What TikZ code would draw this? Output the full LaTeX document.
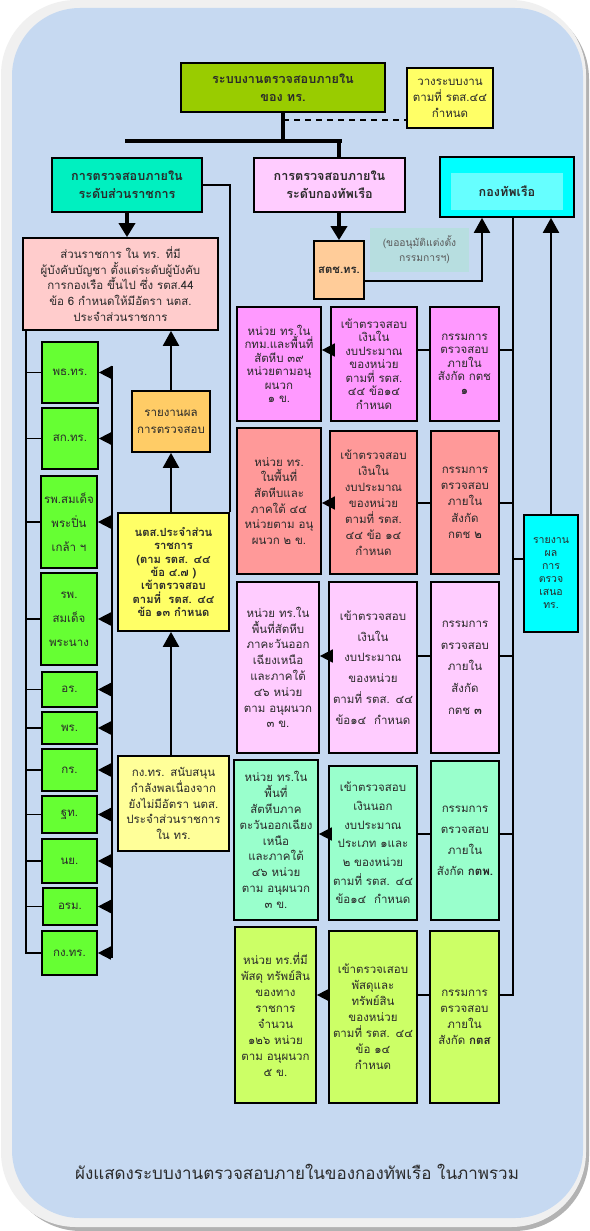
\documentclass[tikz,border=0pt]{standalone}
\usepackage{fontspec}
\setmainfont[Script=Thai]{Loma}
\usetikzlibrary{arrows.meta}
\definecolor{bgblue}{HTML}{C6D9F1}
\definecolor{frame}{HTML}{F0F0F0}
\definecolor{ctop}{HTML}{99CC00}
\definecolor{cyel}{HTML}{FFFF66}
\definecolor{cpale}{HTML}{FFFF99}
\definecolor{cteal}{HTML}{00F0C0}
\definecolor{cpinkl}{HTML}{FFCCFF}
\definecolor{ccyan}{HTML}{00FFFF}
\definecolor{ccyanin}{HTML}{66FFFF}
\definecolor{crose}{HTML}{FFCCCC}
\definecolor{corange}{HTML}{FFCC66}
\definecolor{cpeach}{HTML}{FFCC99}
\definecolor{clabel}{HTML}{B7DEE0}
\definecolor{crowa}{HTML}{FF99FF}
\definecolor{crowb}{HTML}{FF9999}
\definecolor{crowc}{HTML}{FFCCFF}
\definecolor{crowd}{HTML}{99FFCC}
\definecolor{crowe}{HTML}{CCFF66}
\definecolor{cgreen}{HTML}{66FF33}
\definecolor{ctext}{HTML}{2A2A2A}
\newcommand\bx[7]{%
 \pgfmathsetmacro\bxcx{(#2+#4)/2}\pgfmathsetmacro\bxcy{(#3+#5)/2}%
 \pgfmathsetmacro\bxw{#4-#2}\pgfmathsetmacro\bxh{#5-#3}\pgfmathsetmacro\bxtw{#4-#2-2}%
 \node[box,#6,minimum width=\bxw pt,minimum height=\bxh pt,text width=\bxtw pt] (#1) at (\bxcx,\bxcy) {#7};}
\tikzset{
 box/.style={draw=black, line width=1.7pt, inner sep=0pt, align=center, text=ctext},
 lsp/.style={font=\fontsize{11.5}{#1}\selectfont},
 hdr/.style={font=\fontsize{12.6}{18}\selectfont\bfseries},
 lnk/.style={line width=1.6pt},
 fat/.style={line width=4pt},
 arrT/.style={line width=4pt, -{Triangle[width=16pt,length=14pt]}},
 arrU/.style={line width=2.2pt, -{Triangle[width=16pt,length=15pt]}},
 arrS/.style={line width=1.6pt, -{Triangle[width=13pt,length=13pt]}},
}
\begin{document}
\begin{tikzpicture}[x=1pt,y=-1pt]
\useasboundingbox (0,0) rectangle (589,1231);
\fill[white] (0,0) rectangle (589,1231);
\fill[gray!60, rounded corners=75pt] (6,4) rectangle (589,1231);
\fill[frame, rounded corners=75pt] (1,0) rectangle (586,1227);
\fill[bgblue, rounded corners=68pt] (12,8) rectangle (583,1218);

% top row
\bx{top}{181}{63}{385}{112}{fill=ctop,hdr}{ระบบงานตรวจสอบภายใน\\ของ ทร.}
\bx{note}{407}{68}{493}{128}{fill=cyel,lsp=16,line width=1.3pt}{วางระบบงาน\\ตามที่ รตส.๔๔\\กำหนด}
\bx{teal}{52}{158}{202}{212}{fill=cteal,hdr}{การตรวจสอบภายใน\\ระดับส่วนราชการ}
\bx{pinkl}{254}{158}{405}{212}{fill=cpinkl,hdr}{การตรวจสอบภายใน\\ระดับกองทัพเรือ}
\bx{navy}{440}{157}{574}{217}{fill=ccyan}{}
\fill[ccyanin] (451,173) rectangle (563,210);
\node[font=\fontsize{12.6}{15}\selectfont\bfseries, text=ctext] (navyt) at (507,191) {กองทัพเรือ};

% connectors of top
\coordinate (bar) at (0,141);
\coordinate (dsh) at (0,120);
\draw[fat] (top.south) -- (top.south |- bar);
\draw[fat, line cap=rect] (teal.north |- bar) -- (340,141);
\draw[dashed, line width=1.3pt, dash pattern=on 6pt off 5pt] (top.south |- dsh) -- (note.west |- dsh);

% left area
\bx{pinkbig}{23}{238}{218}{330}{fill=crose,lsp=15.7}{ส่วนราชการ ใน ทร. ที่มี\\ผู้บังคับบัญชา ตั้งแต่ระดับผู้บังคับ\\การกองเรือ ขึ้นไป ซึ่ง รตส.44\\ข้อ 6 กำหนดให้มีอัตรา นตส.\\ประจำส่วนราชการ}
\draw[arrT] (teal.south) -- (teal.south |- pinkbig.north);
\bx{rep}{132}{391}{210}{452}{fill=corange,lsp=17}{รายงานผล\\การตรวจสอบ}
\bx{yel}{118}{513}{229}{631}{fill=cyel,font=\fontsize{11.2}{13.4}\selectfont\bfseries}{นตส.ประจำส่วน\\ราชการ\\(ตาม รตส. ๔๔\\ข้อ ๔.๗ )\\เข้าตรวจสอบ\\ตามที่~~รตส. ๔๔\\ข้อ ๑๓ กำหนด}
\bx{pale}{118}{756}{229}{851}{fill=cpale,lsp=15.7}{กง.ทร. สนับสนุน\\กำลังพลเนื่องจาก\\ยังไม่มีอัตรา นตส.\\ประจำส่วนราชการ\\ใน ทร.}
\draw[arrU] (rep.north) -- (rep.north |- pinkbig.south);
\draw[arrU] (rep.south |- yel.north) -- (rep.south);
\draw[arrU] (rep.south |- pale.north) -- (rep.south |- yel.south);
\draw[lnk] (teal.east) -| (yel.north east);

% green units
\bx{g1}{42}{342}{98}{403}{fill=cgreen,lsp=14}{พธ.ทร.}
\bx{g2}{42}{408}{98}{469}{fill=cgreen,lsp=14}{สก.ทร.}
\bx{g3}{41}{476}{97}{568}{fill=cgreen,lsp=24}{รพ.สมเด็จ\\พระปิ่น\\เกล้า ฯ}
\bx{g4}{41}{573}{97}{665}{fill=cgreen,lsp=24}{รพ.\\สมเด็จ\\พระนาง}
\bx{g5}{42}{672}{97}{707}{fill=cgreen,lsp=14}{อร.}
\bx{g6}{42}{712}{97}{744}{fill=cgreen,lsp=14}{พร.}
\bx{g7}{42}{749}{97}{791}{fill=cgreen,lsp=14}{กร.}
\bx{g8}{42}{796}{97}{833}{fill=cgreen,lsp=14}{ฐท.}
\bx{g9}{42}{839}{97}{883}{fill=cgreen,lsp=14}{นย.}
\bx{g10}{43}{888}{97}{925}{fill=cgreen,lsp=14}{อรม.}
\bx{g11}{42}{931}{97}{975}{fill=cgreen,lsp=14}{กง.ทร.}
\coordinate (lb) at (26,0);
\coordinate (rbT) at (112,366);
\coordinate (rbB) at (112,958);
\draw[lnk] (pinkbig.south west -| lb) -- (g11.west -| lb) -- (g11.west);
\foreach \g in {g1,g2,g3,g4,g5,g6,g7,g8,g9,g10}{\draw[lnk] (\g.west -| lb) -- (\g.west);}
\draw[lnk] (rbT) -- (rbB);
\foreach \g in {g1,g2,g3,g4,g5,g6,g7,g8,g9,g10,g11}{\draw[arrS] (\g.east -| rbT) -- (\g.east);}

% navy level
\bx{stch}{314}{241}{364}{299}{fill=cpeach,font=\fontsize{11.3}{13}\selectfont\bfseries}{สตช.ทร.}
\draw[arrT] (stch.north |- pinkl.south) -- (stch.north);
\draw[fat] (stch.north |- bar) -- (stch.north |- pinkl.north);
\node[fill=clabel, text=black!65, align=center, minimum width=99pt, minimum height=44pt, inner sep=0pt, font=\fontsize{10.3}{15}\selectfont] (lbl) at (419.5,250) {(ขออนุมัติแต่งตั้ง\\\hspace*{10pt}กรรมการฯ)};
\coordinate (sck) at (482,281);
\draw[arrU] (stch.east |- sck) -- (sck) -- (sck |- navy.south);

% rows
\bx{A1}{237}{307}{321}{421}{fill=crowa,lsp=13.5}{หน่วย ทร.ใน\\กทม.และพื้นที่\\สัตหีบ ๓๙\\หน่วยตามอนุ\\ผนวก\\๑ ข.}
\bx{B1}{331}{307}{417}{421}{fill=crowa,lsp=13.5}{เข้าตรวจสอบ\\เงินใน\\งบประมาณ\\ของหน่วย\\ตามที่ รตส.\\๔๔ ข้อ๑๔\\กำหนด}
\bx{C1}{430}{307}{499}{421}{fill=crowa,lsp=13.5}{กรรมการ\\ตรวจสอบ\\ภายใน\\สังกัด กตช\\\textbf{๑}}
\bx{A2}{237}{428}{321}{574}{fill=crowb,lsp=15.7}{หน่วย ทร.\\ในพื้นที่\\สัตหีบและ\\ภาคใต้ ๔๔\\หน่วยตาม อนุ\\ผนวก ๒ ข.}
\bx{B2}{330}{431}{417}{574}{fill=crowb,lsp=16}{เข้าตรวจสอบ\\เงินใน\\งบประมาณ\\ของหน่วย\\ตามที่ รตส.\\๔๔ ข้อ ๑๔\\กำหนด}
\bx{C2}{431}{431}{499}{574}{fill=crowb,lsp=16.3}{กรรมการ\\ตรวจสอบ\\ภายใน\\สังกัด\\กตช \textbf{๒}}
\bx{A3}{237}{582}{319}{753}{fill=crowc,lsp=15.8}{หน่วย ทร.ใน\\พื้นที่สัตหีบ\\ภาคะวันออก\\เฉียงเหนือ\\และภาคใต้\\๔๖ หน่วย\\ตาม อนุผนวก\\๓ ข.}
\bx{B3}{329}{582}{417}{753}{fill=crowc,lsp=20.7}{เข้าตรวจสอบ\\เงินใน\\งบประมาณ\\ของหน่วย\\ตามที่ รตส. ๔๔\\ข้อ๑๔~~กำหนด}
\bx{C3}{431}{582}{499}{753}{fill=crowc,lsp=21.7}{กรรมการ\\ตรวจสอบ\\ภายใน\\สังกัด\\กตช \textbf{๓}}
\bx{A4}{234}{760}{318}{920}{fill=crowd,lsp=15.8}{หน่วย ทร.ใน\\พื้นที่\\สัตหีบภาค\\ตะวันออกเฉียง\\เหนือ\\และภาคใต้\\๔๖ หน่วย\\ตาม อนุผนวก\\๓ ข.}
\bx{B4}{329}{766}{417}{920}{fill=crowd,lsp=18.7}{เข้าตรวจสอบ\\เงินนอก\\งบประมาณ\\ประเภท ๑และ\\๒ ของหน่วย\\ตามที่ รตส. ๔๔\\ข้อ๑๔~~กำหนด}
\bx{C4}{431}{761}{499}{920}{fill=crowd,lsp=21}{กรรมการ\\ตรวจสอบ\\ภายใน\\สังกัด \textbf{กตพ.}}
\bx{A5}{235}{927}{316}{1103}{fill=crowe,lsp=16}{หน่วย ทร.ที่มี\\พัสดุ ทรัพย์สิน\\ของทาง\\ราชการ\\จำนวน\\๑๒๖ หน่วย\\ตาม อนุผนวก\\๕ ข.}
\bx{B5}{329}{931}{417}{1103}{fill=crowe,lsp=16}{เข้าตรวจเสอบ\\พัสดุและ\\ทรัพย์สิน\\ของหน่วย\\ตามที่ รตส. ๔๔\\ข้อ ๑๔\\กำหนด}
\bx{C5}{430}{931}{499}{1103}{fill=crowe,lsp=16}{กรรมการ\\ตรวจสอบ\\ภายใน\\สังกัด \textbf{กตส}}
\bx{rpt}{524}{515}{578}{632}{fill=ccyan,font=\fontsize{10.5}{13}\selectfont}{รายงาน\\ผล\\การ\\ตรวจ\\เสนอ\\ทร.}

\coordinate (bus) at (513,0);
\coordinate (r1) at (0,350);
\coordinate (r2) at (0,503);
\coordinate (r3) at (0,656);
\coordinate (r4) at (0,834);
\coordinate (r5) at (0,995);
\coordinate (rr) at (0,559);
\draw[lnk] (bus |- navy.south) -- (bus |- r5) -- (C5.east |- r5);
\foreach \i in {1,2,3,4}{\draw[lnk] (C\i.east |- r\i) -- (bus |- r\i);}
\foreach \i in {1,2,3,4,5}{
 \draw[lnk] (B\i.east |- r\i) -- (C\i.west |- r\i);
 \draw[arrS] (B\i.west |- r\i) -- (A\i.east |- r\i);}
\draw[lnk] (bus |- rr) -- (rpt.west |- rr);
\draw[arrU] (rpt.north) -- (rpt.north |- navy.south);

\node[font=\fontsize{17}{20}\selectfont, text=ctext] (cap) at (297,1172) {ผังแสดงระบบงานตรวจสอบภายในของกองทัพเรือ ในภาพรวม};
\end{tikzpicture}
\end{document}
